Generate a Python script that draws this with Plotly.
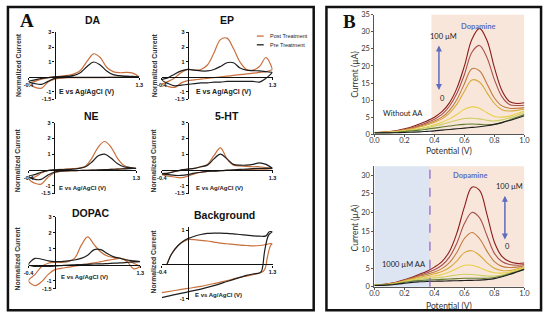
import plotly.graph_objects as go

W, H = 550, 321
def PX(p): return p / W
def PY(p): return 1 - p / H

# ---------------- Panel A data (cyclic voltammograms) ----------------
E_FWD = [-0.4, -0.3, -0.2, -0.1, 0.0, 0.1, 0.2, 0.3, 0.4, 0.5, 0.6, 0.7, 0.8, 0.9, 1.0, 1.1, 1.2, 1.3]
E_BWD = E_FWD[::-1]

da_post_fwd = [-0.45, -0.3, -0.15, -0.05, 0.0, 0.05, 0.1, 0.2, 0.45, 1.05, 1.55, 1.3, 0.65, 0.35, 0.28, 0.3, 0.25, 0.0]
da_post_bwd = [0.0, -0.02, -0.03, -0.03, -0.03, -0.04, -0.05, -0.05, -0.05, -0.05, -0.05, -0.05, -0.08, -0.15, -0.35, -0.75, -0.7, -0.45]
da_pre_fwd = [-0.3, -0.2, -0.1, -0.05, 0.0, 0.02, 0.05, 0.1, 0.3, 0.7, 1.0, 0.8, 0.4, 0.15, 0.08, 0.05, 0.03, 0.0]
da_pre_bwd = [0.0, -0.02, -0.03, -0.03, -0.03, -0.03, -0.03, -0.03, -0.03, -0.03, -0.03, -0.03, -0.05, -0.1, -0.3, -0.5, -0.45, -0.3]

ep_post_fwd = [-0.5, -0.3, -0.05, 0.3, 0.5, 0.45, 0.5, 0.8, 1.6, 2.5, 2.6, 1.9, 1.0, 0.5, 0.45, 0.7, 1.3, 0.5]
ep_post_bwd = [0.5, 0.35, 0.3, 0.25, 0.2, 0.15, 0.1, 0.05, 0.0, -0.05, -0.1, -0.15, -0.2, -0.25, -0.4, -0.7, -0.65, -0.5]
ep_pre_fwd = [-0.2, -0.05, 0.2, 0.4, 0.5, 0.45, 0.4, 0.4, 0.5, 0.7, 0.95, 0.95, 0.6, 0.45, 0.42, 0.4, 0.35, 0.3]
ep_pre_bwd = [0.3, -0.1, -0.35, -0.3, -0.3, -0.3, -0.3, -0.3, -0.35, -0.35, -0.4, -0.4, -0.45, -0.5, -0.55, -0.6, -0.45, -0.2]

ne_post_fwd = [-0.55, -0.45, -0.2, -0.05, 0.0, 0.03, 0.05, 0.08, 0.12, 0.25, 0.75, 1.45, 1.8, 1.45, 0.75, 0.3, 0.15, 0.1]
ne_post_bwd = [0.1, 0.1, 0.08, 0.05, 0.03, 0.02, 0.0, -0.02, -0.03, -0.04, -0.05, -0.06, -0.1, -0.2, -0.5, -0.9, -0.85, -0.55]
ne_pre_fwd = [-0.4, -0.3, -0.15, -0.05, 0.0, 0.02, 0.03, 0.05, 0.1, 0.2, 0.5, 0.9, 1.0, 0.75, 0.4, 0.2, 0.15, 0.1]
ne_pre_bwd = [0.1, 0.08, 0.06, 0.05, 0.03, 0.02, 0.0, -0.02, -0.03, -0.04, -0.05, -0.06, -0.08, -0.15, -0.35, -0.6, -0.6, -0.4]

ht_post_fwd = [-0.3, -0.2, -0.1, -0.02, 0.05, 0.1, 0.2, 0.35, 0.9, 1.4, 0.7, 0.3, 0.25, 0.22, 0.2, 0.2, 0.15, 0.1]
ht_post_bwd = [0.1, 0.05, 0.05, 0.03, 0.02, 0.0, -0.02, -0.03, -0.05, -0.08, -0.1, -0.15, -0.25, -0.4, -0.5, -0.45, -0.4, -0.3]
ht_pre_fwd = [-0.25, -0.2, -0.1, 0.0, 0.05, 0.1, 0.2, 0.3, 0.7, 1.0, 0.7, 0.35, 0.3, 0.3, 0.35, 0.45, 0.35, 0.1]
ht_pre_bwd = [0.1, 0.1, 0.1, 0.08, 0.05, 0.03, 0.0, -0.02, -0.05, -0.08, -0.1, -0.15, -0.2, -0.3, -0.35, -0.35, -0.3, -0.25]

dopac_post_fwd = [-1.0, -0.6, -0.1, 0.1, 0.15, 0.15, 0.2, 0.4, 1.2, 1.75, 1.25, 0.8, 0.55, 0.45, 0.4, 0.3, 0.1, -0.1]
dopac_post_bwd = [-0.1, -0.25, 0.2, 0.4, 0.35, 0.28, 0.2, 0.12, 0.05, -0.02, -0.08, -0.15, -0.22, -0.3, -0.6, -1.05, -1.3, -1.0]
dopac_pre_fwd = [0.0, 0.4, 0.35, 0.25, 0.2, 0.2, 0.25, 0.3, 0.4, 0.6, 0.95, 0.95, 0.7, 0.5, 0.4, 0.3, 0.25, 0.2]
dopac_pre_bwd = [0.2, 0.18, 0.15, 0.12, 0.1, 0.08, 0.06, 0.05, 0.03, 0.02, 0.0, -0.02, -0.05, -0.08, -0.1, -0.1, -0.1, 0.0]

BG_E_FWD = [-0.32, -0.25, -0.15, -0.05, 0.0, 0.1, 0.2, 0.3, 0.4, 0.5, 0.6, 0.7, 0.8, 0.9, 1.0, 1.1, 1.2, 1.25, 1.3]
bg_pre_fwd = [0.0, 0.3, 0.55, 0.7, 0.75, 0.82, 0.87, 0.9, 0.91, 0.91, 0.9, 0.89, 0.87, 0.85, 0.83, 0.82, 0.83, 0.95, 0.95]
bg_post_fwd = [0.0, 0.3, 0.55, 0.68, 0.72, 0.72, 0.7, 0.68, 0.65, 0.62, 0.6, 0.58, 0.56, 0.55, 0.54, 0.55, 0.58, 0.6, 0.6]
BG_E_BWD_PRE = [1.3, 1.24, 1.18, 1.15, 1.13, 1.1, 1.0, 0.9, 0.8, 0.6, 0.4, 0.2, 0.0, -0.2, -0.4]
bg_pre_bwd = [0.95, 0.85, 0.4, -0.05, -0.2, -0.25, -0.28, -0.32, -0.38, -0.5, -0.62, -0.72, -0.8, -0.88, -0.97]
BG_E_BWD_POST = [1.3, 1.27, 1.22, 1.19, 1.16, 1.1, 1.0, 0.9, 0.8, 0.6, 0.4, 0.2, 0.0, -0.2, -0.4]
bg_post_bwd = [0.6, 0.55, 0.2, -0.1, -0.2, -0.25, -0.3, -0.34, -0.38, -0.47, -0.56, -0.64, -0.7, -0.76, -0.82]

# ---------------- Panel B data (DPV, dopamine) ----------------
POT = [0.0, 0.05, 0.1, 0.15, 0.2, 0.25, 0.3, 0.35, 0.4, 0.45, 0.5, 0.55, 0.6, 0.65, 0.7, 0.75, 0.8, 0.85, 0.9, 0.95, 1.0]
top_curves = [
    [0.5, 0.6, 0.8, 1.1, 1.6, 2.2, 3.0, 3.9, 5.0, 6.6, 9.2, 13.5, 20.0, 27.8, 31.0, 27.5, 19.5, 12.8, 9.6, 9.0, 9.2],
    [0.5, 0.6, 0.75, 1.0, 1.4, 1.9, 2.6, 3.4, 4.4, 5.8, 8.2, 12.0, 17.5, 24.0, 26.0, 22.5, 16.0, 11.0, 8.7, 8.4, 8.5],
    [0.5, 0.55, 0.7, 0.9, 1.3, 1.7, 2.3, 3.0, 3.9, 5.0, 7.0, 10.2, 14.8, 19.2, 18.6, 14.8, 10.6, 8.3, 7.6, 7.6, 7.8],
    [0.5, 0.55, 0.65, 0.85, 1.2, 1.6, 2.1, 2.7, 3.5, 4.5, 6.2, 8.8, 12.6, 15.9, 15.3, 12.2, 9.0, 7.2, 6.8, 7.0, 7.3],
    [0.5, 0.5, 0.6, 0.8, 1.0, 1.3, 1.7, 2.2, 2.8, 3.5, 4.5, 5.8, 7.3, 8.0, 7.6, 6.3, 5.2, 5.0, 5.3, 6.0, 6.8],
    [0.5, 0.5, 0.55, 0.7, 0.9, 1.15, 1.5, 1.9, 2.4, 2.9, 3.5, 4.1, 4.6, 4.7, 4.5, 4.1, 3.9, 4.2, 4.8, 5.5, 6.3],
    [0.45, 0.45, 0.5, 0.6, 0.8, 1.0, 1.2, 1.5, 1.8, 2.1, 2.4, 2.7, 2.9, 3.0, 2.9, 2.8, 2.9, 3.4, 4.2, 5.0, 5.8],
    [0.4, 0.4, 0.4, 0.45, 0.5, 0.6, 0.7, 0.85, 1.0, 1.2, 1.4, 1.6, 1.8, 2.0, 2.2, 2.5, 2.9, 3.4, 4.0, 4.7, 5.4],
]
bottom_curves = [
    [0.5, 0.6, 0.9, 1.3, 1.9, 2.6, 3.4, 4.2, 5.3, 6.8, 9.5, 14.5, 21.5, 26.8, 26.0, 19.5, 12.0, 8.2, 6.8, 6.3, 6.4],
    [0.5, 0.6, 0.85, 1.2, 1.8, 2.4, 3.1, 3.8, 4.6, 5.8, 8.0, 11.8, 17.0, 20.0, 18.6, 13.8, 9.0, 6.8, 6.0, 5.8, 6.0],
    [0.5, 0.55, 0.8, 1.15, 1.7, 2.3, 2.9, 3.4, 4.0, 4.9, 6.5, 9.3, 13.0, 14.6, 13.0, 9.6, 6.8, 5.5, 5.2, 5.3, 5.7],
    [0.45, 0.55, 0.75, 1.1, 1.6, 2.1, 2.6, 3.0, 3.5, 4.1, 5.2, 7.0, 9.2, 9.7, 8.5, 6.5, 5.0, 4.4, 4.4, 4.8, 5.4],
    [0.45, 0.5, 0.7, 1.0, 1.5, 1.9, 2.3, 2.6, 2.9, 3.3, 4.0, 4.9, 5.8, 5.8, 5.2, 4.3, 3.8, 3.7, 4.0, 4.5, 5.2],
    [0.4, 0.5, 0.65, 0.95, 1.35, 1.7, 2.0, 2.2, 2.4, 2.6, 2.9, 3.2, 3.4, 3.3, 3.1, 2.9, 2.9, 3.2, 3.7, 4.3, 5.0],
    [0.4, 0.45, 0.6, 0.85, 1.2, 1.5, 1.7, 1.8, 1.9, 2.0, 2.1, 2.2, 2.3, 2.3, 2.3, 2.3, 2.5, 2.9, 3.5, 4.1, 4.8],
    [0.35, 0.4, 0.5, 0.7, 0.95, 1.2, 1.35, 1.45, 1.5, 1.55, 1.6, 1.65, 1.7, 1.75, 1.8, 1.95, 2.2, 2.7, 3.3, 4.0, 4.7],
]
conc_labels = ["100 µM", "80 µM", "60 µM", "40 µM", "20 µM", "10 µM", "5 µM", "0 µM"]
dpv_colors = ["#8B1C1C", "#A8504A", "#C07A40", "#D6A838", "#E8CF4A", "#CCCF62", "#5E7B2E", "#1E1E1E"]

legend_names = ["Post Treatment", "Pre Treatment"]

POST_COL = "#C8703C"
PRE_COL = "#1E1E1E"
FA = "Liberation Sans"
FB = "Lato"

fig = go.Figure()

panelA = [
    dict(t="DA", xd=(24, 137), yd=(29, 98), yr=(-1.5, 3.0), yt=[3, 2, 1, -1, -1.5], tpos=(90, 16), lab=(13, 63), ev=(53, 91), evs=7,
         post=(E_FWD + E_BWD, da_post_fwd + da_post_bwd), pre=(E_FWD + E_BWD, da_pre_fwd + da_pre_bwd)),
    dict(t="EP", xd=(160, 273), yd=(29, 98), yr=(-1.5, 3.0), yt=[3, 2, 1, -1, -1.5], tpos=(227, 16), lab=(152, 63), ev=(193, 91), evs=7,
         post=(E_FWD + E_BWD, ep_post_fwd + ep_post_bwd), pre=(E_FWD + E_BWD, ep_pre_fwd + ep_pre_bwd)),
    dict(t="NE", xd=(24, 134), yd=(122, 195), yr=(-1.5, 3.0), yt=[3, 2, 1, -1, -1.5], tpos=(88, 115), lab=(13, 161), ev=(53, 189), evs=6,
         post=(E_FWD + E_BWD, ne_post_fwd + ne_post_bwd), pre=(E_FWD + E_BWD, ne_pre_fwd + ne_pre_bwd)),
    dict(t="5-HT", xd=(160, 273), yd=(122, 195), yr=(-1.5, 3.0), yt=[3, 2, 1, -1, -1.5], tpos=(227, 115), lab=(152, 161), ev=(193, 189), evs=6,
         post=(E_FWD + E_BWD, ht_post_fwd + ht_post_bwd), pre=(E_FWD + E_BWD, ht_pre_fwd + ht_pre_bwd)),
    dict(t="DOPAC", xd=(24, 138), yd=(219, 293), yr=(-1.5, 3.0), yt=[3, 2, 1, -1, -1.5], tpos=(88, 215), lab=(13, 262), ev=(55, 281), evs=6,
         post=(E_FWD + E_BWD, dopac_post_fwd + dopac_post_bwd), pre=(E_FWD + E_BWD, dopac_pre_fwd + dopac_pre_bwd)),
    dict(t="Background", xd=(160, 273), yd=(229, 305), yr=(-1.05, 1.1), yt=[1, -1], tpos=(224, 217), lab=(152, 265), ev=(192, 299), evs=6,
         post=(BG_E_FWD + BG_E_BWD_POST, bg_post_fwd + bg_post_bwd), pre=(BG_E_FWD + BG_E_BWD_PRE, bg_pre_fwd + bg_pre_bwd)),
]

annotations = []
shapes = []

def ann(**kw):
    d = dict(showarrow=False, xanchor="center", yanchor="middle")
    d.update(kw)
    annotations.append(d)

for i, s in enumerate(panelA, start=1):
    xid = "x" if i == 1 else f"x{i}"
    yid = "y" if i == 1 else f"y{i}"
    xr = (-0.4, 1.3)
    x0p, x1p = PX(s["xd"][0]), PX(s["xd"][1])
    ytp, ybp = PY(s["yd"][0]), PY(s["yd"][1])
    ypos = x0p + (0 - xr[0]) / (xr[1] - xr[0]) * (x1p - x0p)
    xpos = ybp + (0 - s["yr"][0]) / (s["yr"][1] - s["yr"][0]) * (ytp - ybp)
    fig.add_trace(go.Scatter(x=s["post"][0], y=s["post"][1], mode="lines", line=dict(color=POST_COL, width=1.2, shape="spline", smoothing=1.0),
                             name=legend_names[0], showlegend=False, xaxis=xid, yaxis=yid, hoverinfo="skip"))
    fig.add_trace(go.Scatter(x=s["pre"][0], y=s["pre"][1], mode="lines", line=dict(color=PRE_COL, width=1.2, shape="spline", smoothing=1.0),
                             name=legend_names[1], showlegend=False, xaxis=xid, yaxis=yid, hoverinfo="skip"))
    kx = "xaxis" if i == 1 else f"xaxis{i}"
    ky = "yaxis" if i == 1 else f"yaxis{i}"
    fig.layout[kx] = dict(domain=[x0p, x1p], range=list(xr), anchor="free", position=xpos,
                          showline=True, linecolor="#111", linewidth=1.3, showgrid=False, zeroline=False,
                          tickvals=[-0.4, 1.3], ticktext=["-0.4", "1.3"], ticks="outside", ticklen=2, tickcolor="#111",
                          tickfont=dict(family=FA, size=5.5, color="#111", weight="bold"))
    fig.layout[ky] = dict(domain=[ybp, ytp], range=list(s["yr"]), anchor="free", position=ypos,
                          showline=True, linecolor="#111", linewidth=1.3, showgrid=False, zeroline=False,
                          tickvals=s["yt"], ticktext=[str(v) for v in s["yt"]], ticks="outside", ticklen=2, tickcolor="#111",
                          tickfont=dict(family=FA, size=5.5, color="#111", weight="bold"))
    ann(text=f"<b>{s['t']}</b>", x=PX(s["tpos"][0]), y=PY(s["tpos"][1]), xref="paper", yref="paper",
        font=dict(family=FA, size=10.5, color="#111"))
    ann(text="<b>Normalized Current</b>", x=PX(s["lab"][0]), y=PY(s["lab"][1]), xref="paper", yref="paper",
        textangle=-90, font=dict(family=FA, size=6.8, color="#333"))
    ann(text="<b>E vs Ag/AgCl (V)</b>", x=PX(s["ev"][0]), y=PY(s["ev"][1]), xref="paper", yref="paper",
        font=dict(family=FA, size=s["evs"], color="#222"), xanchor="left")

# legend (Post / Pre Treatment)
for k, (nm, col, yy) in enumerate([(legend_names[0], POST_COL, 33), (legend_names[1], PRE_COL, 42)]):
    shapes.append(dict(type="line", xref="paper", yref="paper", x0=PX(257), x1=PX(264), y0=PY(yy), y1=PY(yy),
                       line=dict(color=col, width=1.3)))
    ann(text=nm, x=PX(268), y=PY(yy), xref="paper", yref="paper", xanchor="left",
        font=dict(family=FA, size=5.5, color="#222"))

# ---------------- Panel B ----------------
b_specs = [
    dict(idx=7, yd=(11, 134), yr=(0, 35), yt=list(range(0, 36, 5)), curves=top_curves, ytitle_y=72, xtitle_y=151),
    dict(idx=8, yd=(167, 291), yr=(0, 32.4), yt=list(range(0, 31, 5)), curves=bottom_curves, ytitle_y=230, xtitle_y=311),
]
for s in b_specs:
    i = s["idx"]
    for k, (c, col) in enumerate(zip(s["curves"], dpv_colors)):
        fig.add_trace(go.Scatter(x=POT, y=c, mode="lines", line=dict(color=col, width=1.1, shape="spline", smoothing=1.0),
                                 name=conc_labels[k], showlegend=False, xaxis=f"x{i}", yaxis=f"y{i}", hoverinfo="skip"))
    fig.layout[f"xaxis{i}"] = dict(domain=[PX(377), PX(530)], range=[0, 1.0], anchor=f"y{i}",
                                   showline=True, linecolor="#555", linewidth=1, showgrid=False, zeroline=False,
                                   tickvals=[0, 0.2, 0.4, 0.6, 0.8, 1.0], ticktext=["0.0", "0.2", "0.4", "0.6", "0.8", "1.0"],
                                   ticks="outside", ticklen=2, tickcolor="#555", ticklabelstandoff=-3,
                                   tickfont=dict(family=FB, size=7.5, color="#333"))
    fig.layout[f"yaxis{i}"] = dict(domain=[PY(s["yd"][1]), PY(s["yd"][0])], range=list(s["yr"]), anchor=f"x{i}",
                                   showline=True, linecolor="#555", linewidth=1, showgrid=False, zeroline=False,
                                   tickvals=s["yt"], ticks="outside", ticklen=2, tickcolor="#555",
                                   tickfont=dict(family=FB, size=7.5, color="#333"))
    ann(text="Current (µA)", x=PX(357), y=PY(s["ytitle_y"]), xref="paper", yref="paper", textangle=-90,
        font=dict(family=FB, size=8.5, color="#333"))
    ann(text="Potential (V)", x=PX(453), y=PY(s["xtitle_y"]), xref="paper", yref="paper",
        font=dict(family=FB, size=8.5, color="#333"))

shapes.append(dict(type="rect", xref="x7", yref="y7 domain", x0=0.38, x1=1.0, y0=0, y1=1, fillcolor="#F9E6DA", line=dict(width=0), layer="below"))
shapes.append(dict(type="rect", xref="x8", yref="y8 domain", x0=0.0, x1=0.37, y0=0, y1=1, fillcolor="#DDE4F2", line=dict(width=0), layer="below"))
shapes.append(dict(type="rect", xref="x8", yref="y8 domain", x0=0.37, x1=1.0, y0=0, y1=1, fillcolor="#F9E6DA", line=dict(width=0), layer="below"))
shapes.append(dict(type="line", xref="x8", yref="y8 domain", x0=0.37, x1=0.37, y0=0, y1=1, line=dict(color="#8A62C8", width=1.2, dash="dash")))

shapes.append(dict(type="rect", xref="paper", yref="paper", x0=PX(3), x1=PX(315), y0=PY(315), y1=PY(3), line=dict(color="#111", width=2.5)))
shapes.append(dict(type="rect", xref="paper", yref="paper", x0=PX(328), x1=PX(547), y0=PY(315), y1=PY(3), line=dict(color="#111", width=2.5)))

DOP = "#5E6DC0"
ann(text="<b>A</b>", x=PX(22), y=PY(17), xref="paper", yref="paper", font=dict(family="Liberation Serif", size=19, color="#111"))
ann(text="<b>B</b>", x=PX(352), y=PY(18), xref="paper", yref="paper", font=dict(family="Liberation Serif", size=19, color="#111"))
ann(text="<b>Dopamine</b>", x=0.69, y=31.5, xref="x7", yref="y7", font=dict(family=FB, size=7.5, color=DOP))
ann(text="100 µM", x=0.46, y=28.5, xref="x7", yref="y7", font=dict(family=FB, size=7.5, color="#222"))
ann(text="0", x=0.455, y=10.5, xref="x7", yref="y7", font=dict(family=FB, size=7.5, color="#222"))
ann(text="Without AA", x=0.19, y=6.0, xref="x7", yref="y7", font=dict(family=FB, size=7.5, color="#222"))
ann(text="<b>Dopamine</b>", x=0.64, y=30.0, xref="x8", yref="y8", font=dict(family=FB, size=7.5, color=DOP))
ann(text="100 µM", x=0.9, y=27.0, xref="x8", yref="y8", font=dict(family=FB, size=7.5, color="#222"))
ann(text="0", x=0.885, y=10.8, xref="x8", yref="y8", font=dict(family=FB, size=7.5, color="#222"))
ann(text="1000 µM AA", x=0.2, y=6.0, xref="x8", yref="y8", font=dict(family=FB, size=7.5, color="#222"))
annotations += [
    dict(x=0.43, y=26.0, ax=0.43, ay=12.5, xref="x7", yref="y7", axref="x7", ayref="y7", text="", showarrow=True,
         arrowhead=2, startarrowhead=2, arrowside="end+start", arrowsize=0.8, arrowwidth=1.5, arrowcolor=DOP),
    dict(x=0.87, y=24.5, ax=0.87, ay=12.3, xref="x8", yref="y8", axref="x8", ayref="y8", text="", showarrow=True,
         arrowhead=2, startarrowhead=2, arrowside="end+start", arrowsize=0.8, arrowwidth=1.5, arrowcolor=DOP),
]

fig.update_layout(
    width=W, height=H, margin=dict(l=0, r=0, t=0, b=0),
    paper_bgcolor="white", plot_bgcolor="rgba(0,0,0,0)",
    showlegend=False,
    annotations=annotations, shapes=shapes,
)

fig.write_html("out.html", config={"displayModeBar": False},
               post_script="document.body.style.margin='0px';document.body.style.padding='0px';document.body.style.overflow='hidden';")
